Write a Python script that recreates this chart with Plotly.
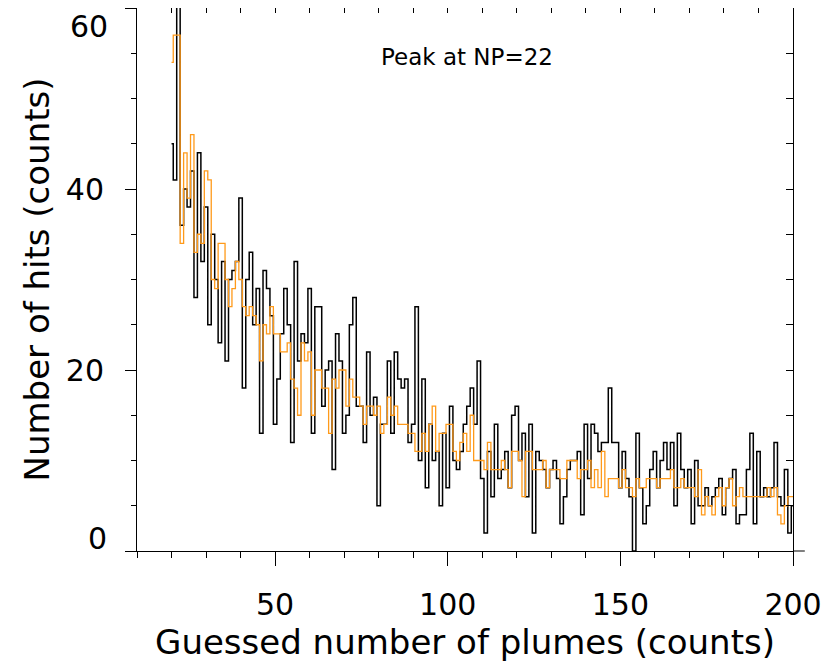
import plotly.graph_objects as go

# guessed number of plumes, one bin per count
np_guess = list(range(20, 201))

# number of hits, black histogram
hits = [45, 41, 64, 36, 40, 38, 42, 28, 44, 32,
        38, 25, 35, 30, 23, 32, 21, 30, 31, 32,
        39, 18, 30, 33, 25, 29, 13, 31, 29, 26,
        14, 19, 24, 29, 25, 12, 32, 21, 24, 23,
        29, 13, 27, 27, 16, 20, 21, 9, 24, 21,
        13, 15, 25, 28, 16, 16, 12, 22, 15, 17,
        5, 14, 14, 21, 13, 22, 19, 18, 19, 12,
        14, 27, 10, 19, 7, 14, 10, 11, 5, 13,
        7, 16, 10, 9, 11, 14, 16, 18, 14, 21,
        8, 2, 11, 6, 14, 8, 9, 11, 7, 15,
        16, 10, 13, 6, 14, 2, 11, 10, 9, 7,
        9, 10, 8, 3, 6, 9, 10, 10, 11, 4,
        14, 8, 14, 13, 11, 12, 12, 18, 12, 12,
        7, 11, 8, 6, 0, 13, 7, 3, 5, 9,
        11, 7, 10, 12, 9, 12, 5, 13, 9, 7,
        9, 3, 10, 5, 5, 7, 5, 6, 7, 8,
        4, 7, 8, 9, 3, 4, 4, 9, 13, 3,
        11, 6, 7, 6, 7, 12, 6, 5, 9, 2,
        5]

# orange histogram
hits_orange = [54, 57, 57, 34, 44, 39, 46, 33, 35, 34,
               42, 41, 30, 29, 34, 34, 30, 27, 29, 32,
               30, 27, 26, 27, 26, 25, 21, 25, 24, 27,
               24, 24, 22, 22, 23, 19, 18, 15, 23, 21,
               22, 15, 20, 20, 18, 18, 13, 19, 18, 20,
               20, 16, 19, 17, 17, 16, 14, 16, 16, 15,
               16, 13, 14, 17, 15, 16, 14, 14, 14, 13,
               13, 11, 11, 13, 11, 14, 16, 11, 13, 13,
               14, 14, 11, 10, 12, 13, 11, 15, 10, 10,
               10, 9, 12, 9, 9, 9, 10, 9, 7, 11,
               11, 10, 6, 11, 11, 9, 9, 9, 10, 7,
               9, 9, 9, 8, 8, 10, 10, 10, 8, 9,
               9, 10, 7, 9, 7, 11, 6, 8, 8, 8,
               7, 9, 7, 7, 6, 8, 7, 7, 8, 8,
               8, 7, 8, 8, 8, 9, 7, 7, 8, 7,
               7, 7, 6, 9, 4, 6, 5, 4, 6, 7,
               5, 7, 8, 5, 6, 7, 6, 6, 6, 6,
               6, 6, 6, 7, 6, 7, 4, 3, 5, 6,
               6]

y_ticks = [0, 20, 40, 60]

FONT = "DejaVu Sans"

fig = go.Figure()
fig.add_trace(go.Scatter(x=np_guess, y=hits, mode="lines", line_shape="hvh",
                         line=dict(color="black", width=1.5), showlegend=False))
fig.add_trace(go.Scatter(x=np_guess, y=hits_orange, mode="lines", line_shape="hvh",
                         line=dict(color="#ff9a1a", width=1.3), showlegend=False))
# invisible copy so the top/right box axes get drawn
fig.add_trace(go.Scatter(x=np_guess, y=hits, mode="lines", opacity=0, xaxis="x2", yaxis="y2",
                         hoverinfo="skip", showlegend=False))

fig.add_annotation(x=0.503, y=0.938, xref="paper", yref="paper", text="Peak at NP=22",
                   showarrow=False, font=dict(family=FONT, size=23, color="black"))

# end labels sit inside the box, as in the original
fig.add_annotation(x=0, y=y_ticks[0], xref="paper", yref="y", text=str(y_ticks[0]),
                   xanchor="right", yanchor="bottom", xshift=-28, yshift=-7, showarrow=False,
                   font=dict(family=FONT, size=30, color="black"))
fig.add_annotation(x=0, y=y_ticks[-1], xref="paper", yref="y", text=str(y_ticks[-1]),
                   xanchor="right", yanchor="top", xshift=-28, yshift=0, borderpad=0,
                   showarrow=False, font=dict(family=FONT, size=30, color="black"))

# bottom axis line runs a little past the box
fig.add_shape(type="line", xref="paper", yref="paper", x0=1, x1=1.018, y0=0, y1=0,
              line=dict(color="black", width=1))

# page body has an 8px margin, so the figure is sized to the rest of the window
fig.update_layout(
    width=821, height=661,
    margin=dict(l=129, r=36, t=0, b=118),
    plot_bgcolor="white", paper_bgcolor="white",
    font=dict(family=FONT, color="black"),
    xaxis=dict(range=[10, 200], tick0=0, dtick=50, ticks="outside", ticklen=14,
               tickcolor="black", showline=True, linecolor="black", linewidth=1,
               showgrid=False, zeroline=False, tickfont=dict(size=30),
               ticklabelstandoff=13, automargin=False,
               minor=dict(tick0=0, dtick=10, ticks="outside", ticklen=6, tickcolor="black"),
               title=dict(text="Guessed number of plumes (counts)", font=dict(size=34),
                          standoff=7)),
    xaxis2=dict(range=[10, 200], overlaying="x", side="top", tick0=0, dtick=10,
                ticks="inside", ticklen=5, tickcolor="black", showline=True,
                linecolor="black", linewidth=1, showticklabels=False,
                showgrid=False, zeroline=False, automargin=False),
    yaxis=dict(range=[0, 60], tickmode="array", tickvals=y_ticks,
               ticktext=["", str(y_ticks[1]), str(y_ticks[2]), ""],
               ticks="outside", ticklen=11,
               tickcolor="black", showline=True, linecolor="black", linewidth=1,
               showgrid=False, zeroline=False, tickfont=dict(size=30),
               ticklabelstandoff=15, automargin=False,
               minor=dict(tickmode="linear", tick0=0, dtick=5, ticks="outside", ticklen=5,
                          tickcolor="black"),
               title=dict(text="Number of hits (counts)", font=dict(size=34), standoff=5)),
    yaxis2=dict(range=[0, 60], overlaying="y", side="right", tick0=0, dtick=5,
                ticks="inside", ticklen=7, tickcolor="black", showline=True,
                linecolor="black", linewidth=1, showticklabels=False,
                showgrid=False, zeroline=False, automargin=False),
)

fig.write_html("out.html")
